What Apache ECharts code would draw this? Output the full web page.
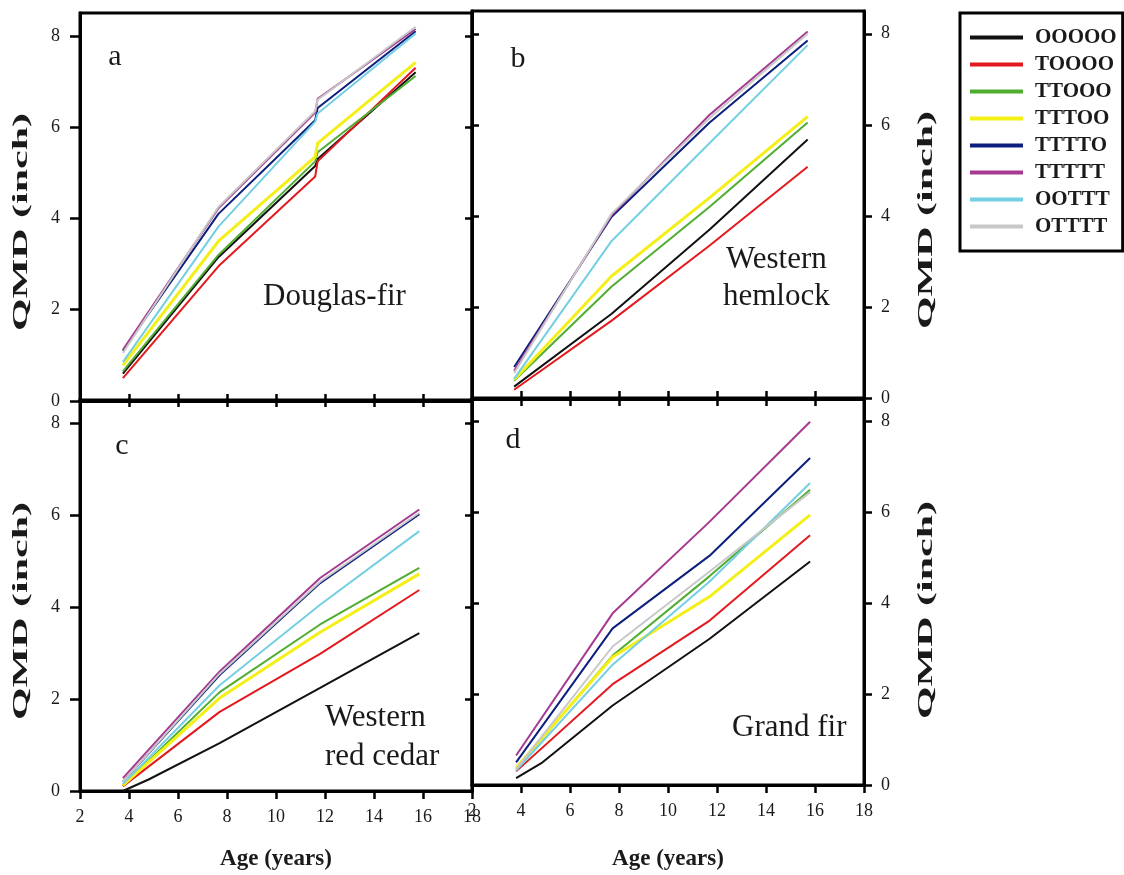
<!DOCTYPE html>
<html>
<head>
<meta charset="utf-8">
<script src="https://cdn.jsdelivr.net/npm/echarts@6/dist/echarts.min.js"></script>
<style>
  html, body { margin: 0; padding: 0; background: #ffffff; }
  #chart { width: 1124px; height: 875px; }
</style>
</head>
<body>
<div id="chart"></div>
<script>
// Thinning treatment sequences (one line per sequence in every panel)
const treatments = ['OOOOO', 'TOOOO', 'TTOOO', 'TTTOO', 'TTTTO', 'TTTTT', 'OOTTT', 'OTTTT'];

// Axis ticks
const ageTicks = [2, 4, 6, 8, 10, 12, 14, 16, 18];
const qmdTicks = [0, 2, 4, 6, 8];

// a: Douglas-fir — QMD (inch) by age (years); rows follow `treatments`
const agesDouglasFir = [3.75, 7.65, 11.6, 11.7, 15.7];
const qmdDouglasFir = [
  [0.60, 3.15, 5.15, 5.30, 7.20],
  [0.50, 2.95, 4.92, 5.25, 7.30],
  [0.65, 3.20, 5.25, 5.45, 7.12],
  [0.78, 3.50, 5.35, 5.65, 7.42],
  [1.10, 4.10, 6.15, 6.42, 8.10],
  [1.12, 4.22, 6.32, 6.62, 8.15],
  [0.85, 3.82, 6.12, 6.30, 8.05],
  [1.05, 4.25, 6.35, 6.60, 8.20]
];

// b: Western hemlock
const agesHemlock = [3.72, 7.7, 11.7, 15.7];
const qmdHemlock = [
  [0.25, 1.85, 3.70, 5.68],
  [0.18, 1.70, 3.35, 5.08],
  [0.38, 2.45, 4.20, 6.05],
  [0.40, 2.68, 4.40, 6.18],
  [0.68, 3.98, 6.05, 7.85],
  [0.60, 4.02, 6.22, 8.05],
  [0.42, 3.45, 5.60, 7.75],
  [0.55, 4.05, 6.15, 8.00]
];

// c: Western red cedar (null = no reading at that age)
const agesRedCedar = [3.75, 4.8, 7.7, 11.8, 15.85];
const qmdRedCedar = [
  [0.00, 0.25, 1.04, 2.24, 3.43],
  [0.10, null, 1.72, 2.98, 4.37],
  [0.12, null, 2.15, 3.62, 4.85],
  [0.12, null, 2.02, 3.45, 4.72],
  [0.20, null, 2.52, 4.52, 6.02],
  [0.28, null, 2.60, 4.63, 6.12],
  [0.15, null, 2.30, 4.05, 5.65],
  [0.20, null, 2.55, 4.55, 6.05]
];

// d: Grand fir
const agesGrandFir = [3.8, 4.83, 7.74, 11.7, 15.8];
const qmdGrandFir = [
  [0.15, 0.48, 1.75, 3.22, 4.92],
  [0.30, null, 2.22, 3.62, 5.50],
  [0.35, null, 2.85, 4.60, 6.50],
  [0.38, null, 2.82, 4.15, 5.95],
  [0.50, null, 3.45, 5.05, 7.20],
  [0.65, null, 3.78, 5.80, 8.00],
  [0.32, null, 2.65, 4.48, 6.65],
  [0.35, null, 3.05, 4.70, 6.45]
];

const lineColors = ['#111111', '#e3191f', '#4fae30', '#f4ef17', '#0c1f7d', '#a53a90', '#74cfe2', '#c8c8c8'];
const lineWidths = [2, 2, 2, 3, 2, 2, 2, 2];

const SERIF = "'Liberation Serif', 'Times New Roman', 'DejaVu Serif', serif";
const INK = '#1a1a1a';

// Panel frames: [left, top, width, height]
const frames = [
  [80, 13, 392, 388],
  [472, 11, 392, 387],
  [80, 400, 392, 391],
  [472, 399, 392, 386]
];

const grid = frames.map(f => ({
  left: f[0], top: f[1], width: f[2], height: f[3],
  show: true, borderColor: '#000', borderWidth: 3, backgroundColor: 'transparent'
}));

function tickStyle(inside, len, values) {
  return { show: true, inside, length: len, customValues: values, lineStyle: { color: '#000', width: 2.5 } };
}

function ageAxis(gridIndex, position, opts) {
  return Object.assign({
    type: 'value', gridIndex, position,
    min: ageTicks[0], max: ageTicks[ageTicks.length - 1], interval: ageTicks[1] - ageTicks[0],
    axisLine: { show: true, onZero: false, lineStyle: { color: '#000', width: 3 } },
    axisTick: tickStyle(true, 7, ageTicks),
    axisLabel: { show: false },
    splitLine: { show: false }
  }, opts || {});
}

function qmdAxis(gridIndex, position, opts) {
  return Object.assign({
    type: 'value', gridIndex, position,
    min: qmdTicks[0], max: 8.5, interval: qmdTicks[1] - qmdTicks[0],
    axisLine: { show: true, onZero: false, lineStyle: { color: '#000', width: 3 } },
    axisTick: tickStyle(true, 7, qmdTicks),
    axisLabel: { show: false },
    splitLine: { show: false }
  }, opts || {});
}

const ageLabels = {
  show: true, margin: 17, color: INK, fontFamily: SERIF, fontSize: 18,
  customValues: ageTicks,
  formatter: v => String(v)
};
const qmdLabels = (margin) => ({
  show: true, margin, color: INK, fontFamily: SERIF, fontSize: 18,
  customValues: qmdTicks,
  formatter: v => String(v)
});
const ageName = {
  name: 'Age (years)', nameLocation: 'middle',
  nameTextStyle: { fontFamily: SERIF, fontWeight: 'bold', fontSize: 23, color: INK }
};

const xAxis = [
  ageAxis(0, 'bottom'),                                                                    // 0 a
  ageAxis(1, 'bottom'),                                                                    // 1 b
  ageAxis(2, 'bottom', Object.assign({ axisTick: tickStyle(false, 8, ageTicks), axisLabel: ageLabels, nameGap: 57 }, ageName)), // 2 c
  ageAxis(2, 'top'),                                                                       // 3 c top
  ageAxis(3, 'bottom', Object.assign({ axisTick: tickStyle(false, 8, ageTicks), axisLabel: ageLabels, nameGap: 63 }, ageName)), // 4 d
  ageAxis(3, 'top')                                                                        // 5 d top
];

const yAxis = [
  qmdAxis(0, 'left', { axisTick: tickStyle(false, 10, qmdTicks), axisLabel: qmdLabels(20) }), // 0 a left
  qmdAxis(0, 'right'),                                                                          // 1 a right
  qmdAxis(1, 'left'),                                                                           // 2 b left
  qmdAxis(1, 'right', { axisTick: tickStyle(false, 8, qmdTicks), axisLabel: qmdLabels(17) }),  // 3 b right
  qmdAxis(2, 'left', { axisTick: tickStyle(false, 10, qmdTicks), axisLabel: qmdLabels(20) }), // 4 c left
  qmdAxis(2, 'right'),                                                                          // 5 c right
  qmdAxis(3, 'left'),                                                                           // 6 d left
  qmdAxis(3, 'right', { axisTick: tickStyle(false, 8, qmdTicks), axisLabel: qmdLabels(17) })   // 7 d right
];

function panelSeries(ages, rows, xIdx, yIdx) {
  return treatments.map((name, i) => ({
    name,
    type: 'line',
    xAxisIndex: xIdx,
    yAxisIndex: yIdx,
    data: ages.map((a, j) => [a, rows[i][j]]).filter(p => p[1] !== null),
    symbol: 'none',
    showSymbol: false,
    silent: true,
    color: lineColors[i],
    lineStyle: { color: lineColors[i], width: lineWidths[i] },
    itemStyle: { color: lineColors[i] }
  }));
}

const series = [].concat(
  panelSeries(agesDouglasFir, qmdDouglasFir, 0, 0),
  panelSeries(agesHemlock, qmdHemlock, 1, 3),
  panelSeries(agesRedCedar, qmdRedCedar, 2, 4),
  panelSeries(agesGrandFir, qmdGrandFir, 4, 7)
);

function label(text, x, y, size, opts) {
  return {
    type: 'text', x, y, silent: true, z: 100,
    style: Object.assign({
      text, fill: INK, fontFamily: SERIF, fontSize: size,
      align: 'left', verticalAlign: 'middle',
      textAlign: 'left', textVerticalAlign: 'middle'
    }, opts || {})
  };
}

// Vertical axis titles, drawn tall and narrow like the printed figure
function qmdTitle(x, y) {
  return {
    type: 'text', x, y, rotation: Math.PI / 2, scaleX: 2.0, silent: true, z: 100,
    style: {
      text: 'QMD (inch)', fill: INK, fontFamily: SERIF, fontSize: 21, fontWeight: 'bold',
      align: 'center', verticalAlign: 'middle', textAlign: 'center', textVerticalAlign: 'middle'
    }
  };
}

const graphic = [
  label('a', 115, 57, 30, { align: 'center', textAlign: 'center' }),
  label('b', 518, 59, 30, { align: 'center', textAlign: 'center' }),
  label('c', 122, 446, 30, { align: 'center', textAlign: 'center' }),
  label('d', 513, 440, 30, { align: 'center', textAlign: 'center' }),
  label('Douglas-fir', 263, 297, 31),
  label('Western', 726, 260, 31),
  label('hemlock', 723, 297, 31),
  label('Western', 325, 718, 31),
  label('red cedar', 325, 757, 31),
  label('Grand fir', 732, 728, 31),
  qmdTitle(22, 222),
  qmdTitle(22, 611),
  qmdTitle(927, 220),
  qmdTitle(927, 610)
];

const chart = echarts.init(document.getElementById('chart'), null, { renderer: 'canvas' });
chart.setOption({
  animation: false,
  backgroundColor: '#ffffff',
  grid,
  xAxis,
  yAxis,
  series,
  graphic,
  legend: {
    data: treatments,
    orient: 'vertical',
    left: 960,
    top: 13,
    padding: [14, 6, 14, 10],
    itemGap: 6,
    itemWidth: 53,
    itemHeight: 4,
    icon: 'rect',
    borderColor: '#000',
    borderWidth: 3,
    backgroundColor: '#ffffff',
    selectedMode: false,
    textStyle: {
      fontFamily: SERIF, fontWeight: 'bold', fontSize: 21, color: INK,
      lineHeight: 20, padding: [0, 0, 0, 7]
    }
  }
});
</script>
</body>
</html>
